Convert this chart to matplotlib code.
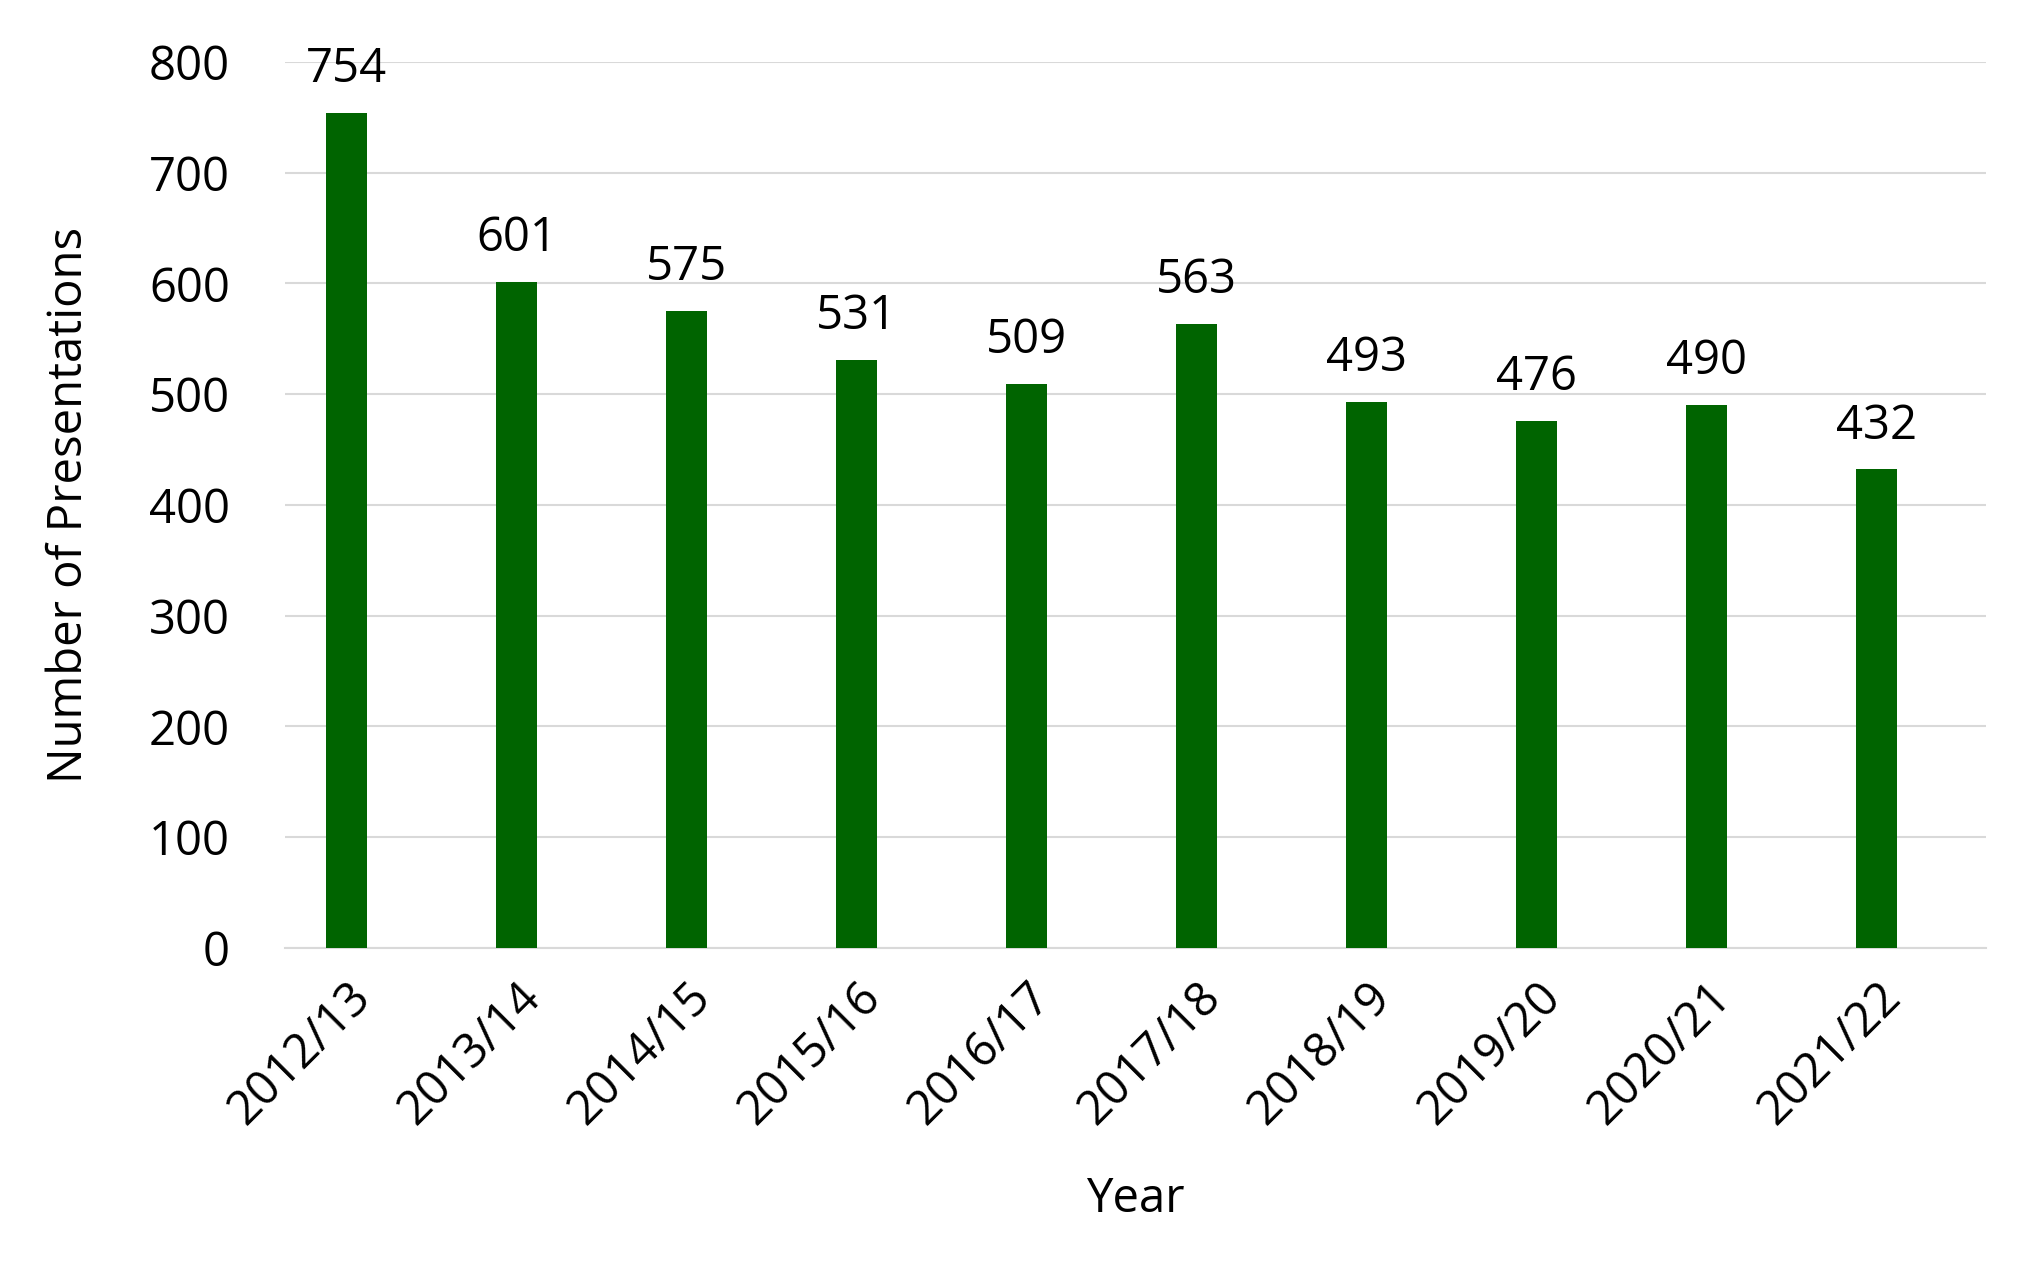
import matplotlib
matplotlib.use("Agg")
import matplotlib.pyplot as plt
import numpy as np

years = ["2012/13", "2013/14", "2014/15", "2015/16", "2016/17",
         "2017/18", "2018/19", "2019/20", "2020/21", "2021/22"]
presentations = [754, 601, 575, 531, 509, 563, 493, 476, 490, 432]

plt.rcParams["font.family"] = "Open Sans"
fs = 34

fig = plt.figure(figsize=(20.24, 12.88), dpi=100)
ax = fig.add_axes([0.141, 0.264, 0.840, 0.688])
x = np.arange(len(years))
ax.bar(x, presentations, width=0.24, color="#006400", zorder=3)
for xi, v in zip(x, presentations):
    ax.text(xi, v + 18, str(v), ha="center", va="bottom", fontsize=fs)

ax.set_ylim(0, 800)
ax.set_xlim(-0.36, len(years) - 0.36)
ax.set_yticks(range(0, 801, 100))
ax.yaxis.grid(True, color="#d9d9d9", linewidth=1.5, zorder=0)
for s in ["top", "right", "left"]:
    ax.spines[s].set_visible(False)
ax.spines["bottom"].set_color("#d9d9d9")
ax.spines["bottom"].set_linewidth(1.5)
ax.tick_params(axis="both", length=0, labelsize=fs)
ax.tick_params(axis="y", pad=40)
ax.tick_params(axis="x", pad=18)
ax.set_xticks(x)
ax.set_xticklabels(years, rotation=45, ha="right", rotation_mode="anchor")
ax.set_xlabel("Year", fontsize=fs, labelpad=30)
ax.set_ylabel("Number of Presentations", fontsize=fs, labelpad=40)

fig.savefig("out.png", dpi=100)
